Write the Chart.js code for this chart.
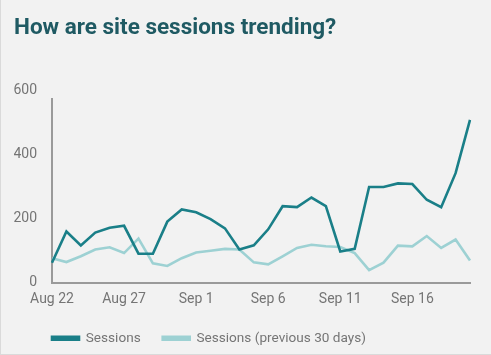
<!DOCTYPE html>
<html>
<head>
<meta charset="utf-8">
<script src="https://cdn.jsdelivr.net/npm/chart.js@4/dist/chart.umd.min.js"></script>
<style>
  html, body { margin: 0; padding: 0; background: #f2f2f2; }
  #wrap { position: relative; width: 491px; height: 355px; overflow: hidden; }
  #frame { position: absolute; left: 0; top: 0; width: 490px; height: 354px; border-left: 1px solid #dadada; border-bottom: 1px solid #dadada; pointer-events: none; }
  #title { position: absolute; left: 14px; top: 13px; margin: 0; font: bold 22.5px Roboto, sans-serif; color: #1f5a63; white-space: nowrap; }
  #c { position: absolute; left: 0; top: 0; }
</style>
</head>
<body>
<div id="wrap">
  <canvas id="c" width="491" height="355"></canvas>
  <h2 id="title">How are site sessions trending?</h2>
  <div id="frame"></div>
</div>
<script>
const dates = ["Aug 22","Aug 23","Aug 24","Aug 25","Aug 26","Aug 27","Aug 28","Aug 29","Aug 30","Aug 31",
  "Sep 1","Sep 2","Sep 3","Sep 4","Sep 5","Sep 6","Sep 7","Sep 8","Sep 9","Sep 10",
  "Sep 11","Sep 12","Sep 13","Sep 14","Sep 15","Sep 16","Sep 17","Sep 18","Sep 19","Sep 20"];
const sessions = [62,159,116,156,171,177,90,90,190,228,219,198,169,103,116,166,238,235,265,238,97,105,298,298,309,307,258,235,341,507];
const sessionsPrev = [76,64,82,103,110,92,137,60,52,76,94,99,105,103,63,57,82,108,118,113,111,92,39,62,115,113,145,108,134,69];
const yTicks = [0, 200, 400, 600];
const seriesNames = ["Sessions", "Sessions (previous 30 days)"];

const DARK = "#1a7f88";
const LIGHT = "#9dd1d3";
const AXIS = "#9a9a9a";

const yAxisLine = {
  id: "yAxisLine",
  beforeDatasetsDraw(chart) {
    const { ctx, chartArea } = chart;
    ctx.save();
    ctx.strokeStyle = AXIS;
    ctx.lineWidth = 2;
    ctx.beginPath();
    ctx.moveTo(chartArea.left, chartArea.bottom);
    ctx.lineTo(chartArea.left, chartArea.top + 8);
    ctx.stroke();
    ctx.restore();
  }
};

const legendShift = {
  id: "legendShift",
  afterLayout(chart) {
    const lg = chart.legend;
    if (!lg) return;
    const pad = lg.options.labels.padding;
    const w = lg.right - lg.left;
    lg.left = chart.chartArea.left - pad;
    lg.right = lg.left + w;
  }
};

new Chart(document.getElementById("c"), {
  type: "line",
  data: {
    labels: dates,
    datasets: [
      { label: seriesNames[0], data: sessions, borderColor: DARK, backgroundColor: DARK, borderWidth: 2.6, pointRadius: 0, tension: 0 },
      { label: seriesNames[1], data: sessionsPrev, borderColor: LIGHT, backgroundColor: LIGHT, borderWidth: 2.6, pointRadius: 0, tension: 0 }
    ]
  },
  options: {
    responsive: false,
    animation: false,
    layout: { padding: { left: 14, right: 21, top: 90, bottom: 0 } },
    plugins: {
      legend: {
        position: "bottom",
        align: "start",
        labels: {
          boxWidth: 27, boxHeight: 3, padding: 22,
          color: "#757575",
          font: { family: "Roboto", size: 13.6 }
        }
      },
      tooltip: { enabled: false }
    },
    scales: {
      x: {
        grid: { display: false, drawTicks: false },
        border: { display: true, color: AXIS, width: 2 },
        ticks: {
          autoSkip: false, maxRotation: 0, padding: 8,
          color: "#757575", font: { family: "Roboto", size: 14 },
          callback: (v, i) => (i % 5 === 0 ? dates[i] : "")
        },
        afterFit(scale) { scale.height -= 6; }
      },
      y: {
        min: 0, max: 600,
        afterBuildTicks(scale) { scale.ticks = yTicks.map(v => ({ value: v })); },
        grid: { display: false, drawTicks: false },
        border: { display: false },
        ticks: { padding: 15, color: "#757575", font: { family: "Roboto", size: 14 } },
        afterFit(scale) { scale.width = 52 - 14; }
      }
    }
  },
  plugins: [yAxisLine, legendShift]
});
</script>
</body>
</html>
